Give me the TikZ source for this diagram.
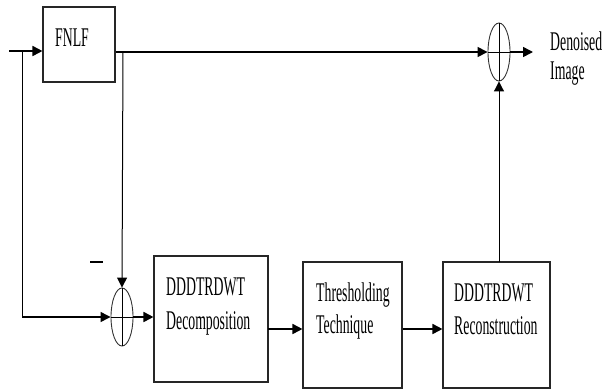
\documentclass[tikz,border=0pt]{standalone}
\usepackage{fontspec}
\setmainfont{Liberation Serif}
\usepackage{graphicx}
\usetikzlibrary{arrows.meta,shapes.geometric}
\newcommand{\nar}[1]{\scalebox{0.51}[1]{#1}}
\begin{document}
\begin{tikzpicture}[x=1pt,y=-1pt,
  blk/.style={draw=black!85,line width=1.1pt,minimum width=#1,inner sep=0pt,minimum height=126pt},
  lbl/.style={anchor=base west,inner sep=0pt,font=\fontsize{27}{30}\selectfont},
  sumnode/.style={draw=black!80,ellipse,line width=0.9pt,minimum width=22pt,minimum height=58pt,inner sep=0pt},
  tip/.style={-{Triangle[length=10pt,width=10pt]}},
  thin/.style={line width=1pt},
  thick2/.style={line width=1.7pt}]
\useasboundingbox (0,0) rectangle (606,389);
% boxes
\node[blk=72pt,minimum height=75pt] (fnlf) at (79,44.5) {};
\node[blk=114pt] (dec) at (211,319) {};
\node[blk=99pt] (thr) at (352.5,325) {};
\node[blk=107pt] (rec) at (496.5,325) {};
% summing junctions
\node[sumnode] (s1) at (122,317) {};
\node[sumnode] (s2) at (499,52) {};
\draw[thin] (s1.north) -- (s1.south) (s1.west) -- (s1.east);
\draw[thin] (s2.north) -- (s2.south) (s2.west) -- (s2.east);
% texts
\node[lbl] (t1) at (55,46) {\nar{FNLF}};
\node[lbl] (t2) at (166,295) {\nar{DDDTRDWT}};
\node[lbl] (t3) at (166,329) {\nar{Decomposition}};
\node[lbl] (t4) at (316,301) {\nar{Thresholding}};
\node[lbl] (t5) at (316,333) {\nar{Technique}};
\node[lbl] (t6) at (454,301) {\nar{DDDTRDWT}};
\node[lbl] (t7) at (454,334) {\nar{Reconstruction}};
\node[lbl] (t8) at (550,50) {\nar{Denoised}};
\node[lbl] (t9) at (550,79) {\nar{Image}};
% minus sign
\coordinate (m1) at (90,262);
\coordinate (m2) at (103,262);
\draw[line width=1.4pt] (m1) -- (m2);
% connectors
\coordinate (in) at (9,51);
\coordinate (br1) at (22,51);
\coordinate (br2) at (123,52);
\draw[thick2,tip] (in) -- (in -| fnlf.west);
\draw[thin] (br1) -- (br1 |- s1.west);
\draw[line width=1.3pt,tip] (br1 |- s1.west) -- (s1.west);
\draw[line width=1.6pt,tip] (br2 -| fnlf.east) -- (s2.west);
\draw[thin,tip] (br2) -- (s1.north);
\draw[thick2,tip] (s1.east) -- (s1.east -| dec.west);
\coordinate (r1) at (268,329);
\draw[thick2,tip] (r1) -- (r1 -| thr.west);
\draw[thick2,tip] (r1 -| thr.east) -- (r1 -| rec.west);
\coordinate (u1) at (499,262);
\draw[thin,tip] (u1) -- (s2.south);
\coordinate (o1) at (533,52);
\draw[line width=1.6pt,tip] (s2.east) -- (o1);
\end{tikzpicture}
\end{document}
